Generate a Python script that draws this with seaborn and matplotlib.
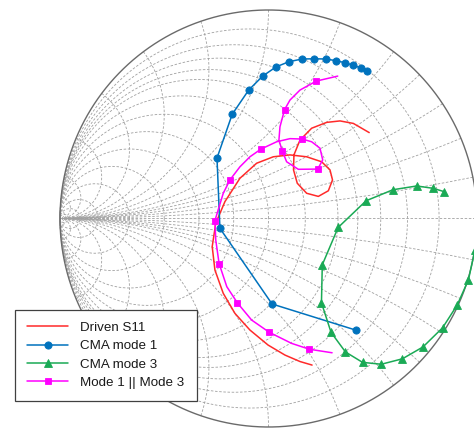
import numpy as np
import pandas as pd
import matplotlib
matplotlib.use("Agg")
import matplotlib.pyplot as plt
import seaborn as sns

# ---------------- data (reflection coefficient, real / imag) ----------------
s11_re = [0.483, 0.407, 0.343, 0.279, 0.207, 0.151, 0.122, 0.120, 0.138, 0.183,
          0.239, 0.287, 0.307, 0.295, 0.255, 0.183, 0.103, 0.023, -0.057, -0.137,
          -0.209, -0.253, -0.270, -0.257, -0.217, -0.161, -0.089, -0.002, 0.079,
          0.151, 0.209]
s11_im = [0.412, 0.456, 0.468, 0.461, 0.433, 0.376, 0.305, 0.233, 0.169, 0.121,
          0.106, 0.133, 0.185, 0.233, 0.272, 0.296, 0.305, 0.296, 0.265, 0.193,
          0.081, -0.023, -0.135, -0.247, -0.359, -0.455, -0.535, -0.607, -0.655,
          -0.686, -0.703]

mode1_re = [0.421, 0.017, -0.233, -0.247, -0.174, -0.095, -0.028, 0.036, 0.098,
            0.161, 0.218, 0.274, 0.324, 0.367, 0.407, 0.442, 0.472]
mode1_im = [-0.536, -0.410, -0.047, 0.290, 0.500, 0.616, 0.683, 0.727, 0.752,
            0.765, 0.766, 0.765, 0.757, 0.747, 0.735, 0.722, 0.709]

mode3_re = [0.842, 0.788, 0.711, 0.597, 0.468, 0.334, 0.258, 0.254, 0.300, 0.369,
            0.451, 0.541, 0.642, 0.741, 0.835, 0.905, 0.959, 0.990]
mode3_im = [0.129, 0.145, 0.156, 0.138, 0.085, -0.043, -0.222, -0.404, -0.546,
            -0.640, -0.690, -0.699, -0.673, -0.616, -0.524, -0.415, -0.294, -0.150]

par_re = [0.332, 0.229, 0.151, 0.103, 0.077, 0.055, 0.050, 0.066, 0.087, 0.143,
          0.236, 0.260, 0.247, 0.207, 0.162, 0.103, 0.039, -0.036, -0.089, -0.137,
          -0.185, -0.217, -0.257, -0.253, -0.237, -0.200, -0.149, -0.081, 0.004,
          0.111, 0.196, 0.305]
par_im = [0.683, 0.659, 0.616, 0.568, 0.522, 0.440, 0.376, 0.324, 0.272, 0.236,
          0.237, 0.281, 0.337, 0.368, 0.381, 0.383, 0.368, 0.333, 0.296, 0.248,
          0.185, 0.121, -0.010, -0.103, -0.216, -0.327, -0.405, -0.487, -0.546,
          -0.599, -0.627, -0.644]
par_marker_idx = [1, 4, 7, 10, 14, 17, 20, 22, 24, 26, 28, 30]

labels = ["Driven S11", "CMA mode 1", "CMA mode 3", "Mode 1 || Mode 3"]
grid_values = [0.1, 0.2, 0.3, 0.4, 0.5, 0.7, 1, 1.4, 2, 3, 5, 10, 20, 50]

# ---------------- figure ----------------
sns.set_theme(style="white")
plt.rcParams["font.family"] = ["Liberation Sans", "DejaVu Sans"]

fig = plt.figure(figsize=(4.74, 4.29), dpi=100)
ax = fig.add_axes([0, 0, 1, 1])
ax.set_xlim(-268.5 / 208.5, (474 - 268.5) / 208.5)
ax.set_ylim((218.5 - 429) / 208.5, 218.5 / 208.5)
ax.axis("off")

gcol = "#a0a0a0"
gls = (0, (3, 2))
glw = 0.6

# admittance-type Smith grid
t = np.linspace(0, 2 * np.pi, 600)
for g in grid_values:
    c = -g / (1 + g)
    r = 1 / (1 + g)
    ax.plot(c + r * np.cos(t), r * np.sin(t), color=gcol, lw=glw, ls=gls, zorder=1)
gg = np.tan(np.linspace(0, np.pi / 2 * 0.99995, 800))
for b in grid_values:
    for s in (1, -1):
        y = gg + 1j * s * b
        G = (1 - y) / (1 + y)
        ax.plot(G.real, G.imag, color=gcol, lw=glw, ls=gls, zorder=1)
ax.plot([-1, 1], [0, 0], color=gcol, lw=glw, ls=gls, zorder=1)
ax.plot(np.cos(t), np.sin(t), color="#6a6a6a", lw=1.0, zorder=2)

# ---------------- data curves ----------------
c_red, c_blue, c_green, c_mag = "#FF2A2A", "#0072BD", "#1AAA55", "#FF00FF"
sns.lineplot(x=s11_re, y=s11_im, sort=False, estimator=None, color=c_red,
             lw=1.1, label=labels[0], ax=ax, zorder=3)
sns.lineplot(x=mode1_re, y=mode1_im, sort=False, estimator=None, color=c_blue,
             lw=1.1, marker="o", markersize=5.2, markeredgewidth=0.6,
             markeredgecolor=c_blue, markerfacecolor=c_blue,
             label=labels[1], ax=ax, zorder=4)
sns.lineplot(x=mode3_re, y=mode3_im, sort=False, estimator=None, color=c_green,
             lw=1.1, marker="^", markersize=5.4, markeredgewidth=0.6,
             markeredgecolor=c_green, markerfacecolor=c_green,
             label=labels[2], ax=ax, zorder=4)
sns.lineplot(x=par_re, y=par_im, sort=False, estimator=None, color=c_mag,
             lw=1.1, marker="s", markersize=4.6, markeredgewidth=0.6,
             markeredgecolor=c_mag, markerfacecolor=c_mag,
             markevery=par_marker_idx, label=labels[3], ax=ax, zorder=5)

leg = ax.legend(loc="lower left", bbox_to_anchor=(15 / 474, 1 - 401 / 429),
                borderaxespad=0, frameon=True, fancybox=False, framealpha=1,
                fontsize=9.6, handlelength=3.1, handletextpad=0.9,
                borderpad=0.9, labelspacing=0.45)
leg.get_frame().set_edgecolor("#404040")
leg.get_frame().set_linewidth(0.9)
for txt in leg.get_texts():
    txt.set_color("#1a1a1a")

fig.savefig("out.png", dpi=100)
